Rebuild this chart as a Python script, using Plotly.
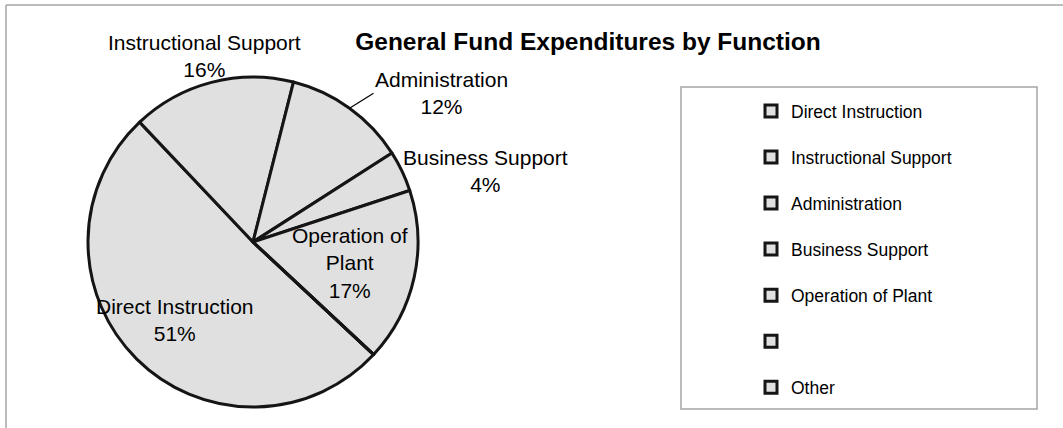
import math
import plotly.graph_objects as go

# ---- data ----
categories = ["Direct Instruction", "Instructional Support", "Administration",
              "Business Support", "Operation of Plant", "", "Other"]
shares = [51, 16, 12, 4, 17, 0, 0]
slice_names = ["Direct Instruction", "Instructional Support", "Administration",
               "Business Support", "Operation of<br>Plant", "", "Other"]

title_text = "General Fund Expenditures by Function"

# ---- layout / style ----
W, H = 1063, 428
FONT = "Arial, 'Liberation Sans', sans-serif"
CX, CY, R = 253.0, 242.0, 165.0          # pie centre and radius in px
ROTATION = 133
# how each data label is placed: (mode, radius factor)
label_mode = ["center", "center", "leader", "left", "center", None, None]
label_radius = [0.67, 1.165, 1.0, 1.0, 0.6, None, None]
leader_offset = (24, -15)                 # px from slice edge to label (leader lines)

legend_labels = ['<span style="font-size:17.5px;baseline-shift:6px">%s</span>' % (c if c else "\u200b")
                 for c in categories]

fig = go.Figure()
fig.add_trace(go.Pie(
    labels=legend_labels,
    values=shares,
    textinfo="none",
    sort=False,
    direction="clockwise",
    rotation=ROTATION,
    marker=dict(colors=["#e0e0e0"] * len(categories),
                line=dict(color="#151515", width=3)),
    domain=dict(x=[(CX - R) / W, (CX + R) / W],
                y=[(H - CY - R) / H, (H - CY + R) / H]),
    showlegend=True,
    hoverinfo="label+percent",
))

# data labels computed from the slice angles
annotations = []
total = float(sum(shares))
start = ROTATION
for name, v, mode, f in zip(slice_names, shares, label_mode, label_radius):
    span = 360.0 * v / total
    mid = math.radians(start + span / 2)
    start += span
    if mode is None or v == 0:
        continue
    px = CX + f * R * math.sin(mid)
    py = CY - f * R * math.cos(mid)
    text = "%s<br>%d%%" % (name, round(100 * v / total))
    base = dict(xref="paper", yref="paper", x=px / W, y=1 - py / H, text=text,
                align="center", font=dict(family=FONT, size=21, color="#000000"),
                borderpad=0)
    if mode == "center":
        base.update(showarrow=False, xanchor="center", yanchor="middle")
    elif mode == "left":
        base.update(showarrow=False, xanchor="left", yanchor="middle")
    else:
        base.update(showarrow=True, arrowhead=0, arrowwidth=1.2, arrowcolor="#000000",
                    ax=leader_offset[0], ay=leader_offset[1], xanchor="left", yanchor="middle",
                    standoff=0, startstandoff=0)
    annotations.append(base)

fig.update_layout(
    width=W, height=H,
    margin=dict(l=0, r=0, t=0, b=0),
    paper_bgcolor="white",
    plot_bgcolor="white",
    font=dict(family=FONT, color="#000000"),
    title=dict(text="<b>%s</b>" % title_text, x=588 / W, xanchor="center",
               y=1 - 41.5 / H, yanchor="middle",
               font=dict(family=FONT, size=24.5, color="#000000")),
    legend=dict(x=751 / W, xanchor="left", y=1 - 83 / H, yanchor="top",
                font=dict(family=FONT, size=33.1, color="#000000"),
                bgcolor="rgba(0,0,0,0)", borderwidth=0, traceorder="normal"),
    annotations=annotations,
    shapes=[
        dict(type="rect", xref="paper", yref="paper",
             x0=681 / W, x1=1037 / W, y0=1 - 409 / H, y1=1 - 87 / H,
             line=dict(color="#a6a6a6", width=1.5), fillcolor="rgba(0,0,0,0)"),
        dict(type="line", xref="paper", yref="paper",
             x0=6 / W, x1=1, y0=1 - 5 / H, y1=1 - 5 / H,
             line=dict(color="#a6a6a6", width=1.5)),
        dict(type="line", xref="paper", yref="paper",
             x0=6 / W, x1=6 / W, y0=0, y1=1 - 5 / H,
             line=dict(color="#a6a6a6", width=1.5)),
    ],
)

fig.write_html("out.html")
